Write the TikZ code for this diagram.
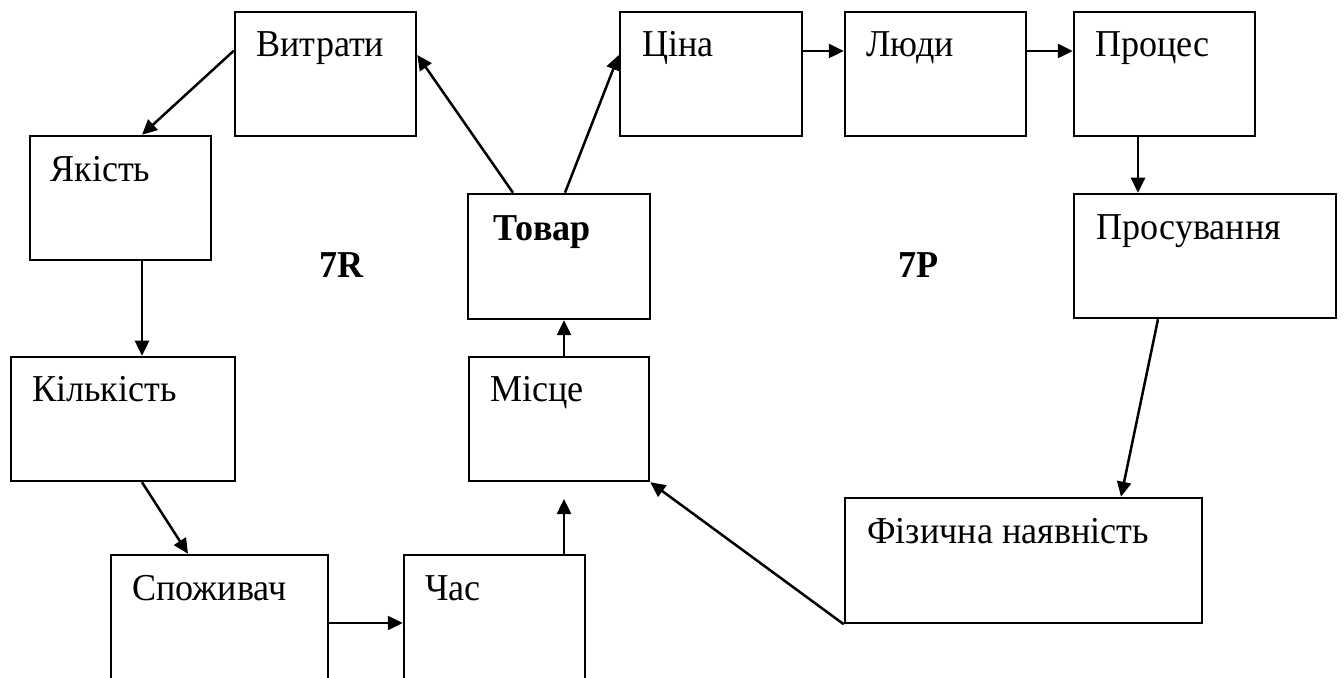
\documentclass[tikz,border=0pt]{standalone}
\usepackage{fontspec}
\setmainfont{Liberation Serif}[FakeStretch=0.95]
\usetikzlibrary{arrows.meta,fit}
\begin{document}
\begin{tikzpicture}[x=0.5pt,y=-0.5pt,
  box/.style={draw,line width=1.25pt,inner sep=0pt,rectangle},
  lbl/.style={inner sep=0pt,anchor=base west,font=\fontsize{19}{22}\selectfont},
  blbl/.style={lbl,font=\fontsize{19}{22}\selectfont\bfseries},
  arr/.style={line width=1.25pt,-{Triangle[length=7.5pt,width=7pt]}}]
\useasboundingbox (0,0) rectangle (1344,678);
\clip (0,0) rectangle (1344,678);
% box corners
\coordinate (vy1) at (235,12);   \coordinate (vy2) at (416,136);
\coordinate (ya1) at (30,136);   \coordinate (ya2) at (211,260);
\coordinate (ki1) at (11,357);   \coordinate (ki2) at (235,481);
\coordinate (sp1) at (111,555);  \coordinate (sp2) at (328,691);
\coordinate (ch1) at (404,555);  \coordinate (ch2) at (585,691);
\coordinate (mi1) at (469,357);  \coordinate (mi2) at (649,481);
\coordinate (to1) at (468,194);  \coordinate (to2) at (650,319);
\coordinate (ci1) at (620,12);   \coordinate (ci2) at (802,136);
\coordinate (ly1) at (845,12);   \coordinate (ly2) at (1026,136);
\coordinate (pr1) at (1074,12);  \coordinate (pr2) at (1255,136);
\coordinate (ps1) at (1074,194); \coordinate (ps2) at (1336,318);
\coordinate (fi1) at (845,498);  \coordinate (fi2) at (1202,623);
% boxes
\node[box,fit=(vy1)(vy2)] (Vy) {};
\node[box,fit=(ya1)(ya2)] (Ya) {};
\node[box,fit=(ki1)(ki2)] (Ki) {};
\node[box,fit=(sp1)(sp2)] (Sp) {};
\node[box,fit=(ch1)(ch2)] (Ch) {};
\node[box,fit=(mi1)(mi2)] (Mi) {};
\node[box,fit=(to1)(to2)] (To) {};
\node[box,fit=(ci1)(ci2)] (Ci) {};
\node[box,fit=(ly1)(ly2)] (Ly) {};
\node[box,fit=(pr1)(pr2)] (Pr) {};
\node[box,fit=(ps1)(ps2)] (Ps) {};
\node[box,fit=(fi1)(fi2)] (Fi) {};
% labels
\node[lbl] (Vyt) at (256,57) {Витрати};
\node[lbl] (Yat) at (50,182) {Якість};
\node[lbl] (Kit) at (32,402) {Кількість};
\node[lbl] (Spt) at (132,600) {Споживач};
\node[lbl] (Cht) at (425,600) {Час};
\node[lbl] (Mit) at (490,402) {Місце};
\node[blbl] (Tot) at (493,241) {Товар};
\node[lbl] (Cit) at (642,57) {Ціна};
\node[lbl] (Lyt) at (866,57) {Люди};
\node[lbl] (Prt) at (1095,57) {Процес};
\node[lbl] (Pst) at (1096,240) {Просування};
\node[lbl] (Fit) at (867,543) {Фізична наявність};
\node[blbl] (R7) at (319,278) {7R};
\node[blbl] (P7) at (898,278) {7P};
% arrows
\coordinate (chtip) at (564,499);
\draw[arr] ([yshift=-20pt]Vy.north west) -- ([xshift=10.75pt]Ya.north);
\draw[arr] ([xshift=10.75pt]Ya.south) coordinate (t1) -- (t1 |- Ki.north);
\draw[arr] ([xshift=9.5pt]Ki.south) -- ([xshift=-15.75pt]Sp.north);
\draw[arr] (Sp.east) -- (Ch.west);
\draw[arr] (chtip |- Ch.north) -- (chtip);
\draw[arr] ([xshift=2.5pt]Mi.north) -- ([xshift=2.5pt]To.south);
\draw[arr] ([xshift=-23pt]To.north) -- ([yshift=9.5pt]Vy.east);
\draw[arr] ([xshift=3pt]To.north) -- ([yshift=9.5pt]Ci.west);
\draw[arr] ([yshift=11.5pt]Ci.east) -- ([yshift=11.5pt]Ly.west);
\draw[arr] ([yshift=11.5pt]Ly.east) -- ([yshift=11.5pt]Pr.west);
\draw[arr] ([xshift=-13.25pt]Pr.south) coordinate (t2) -- (t2 |- Ps.north);
\draw[arr] ([xshift=-23.5pt]Ps.south) -- ([xshift=48.75pt]Fi.north);
\draw[arr] (Fi.south west) -- (Mi.south east);
\end{tikzpicture}
\end{document}
